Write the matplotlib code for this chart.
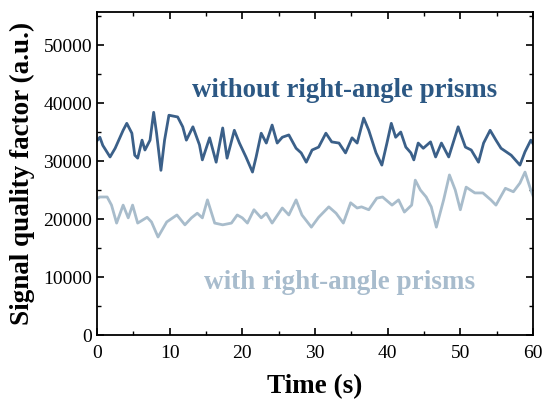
import matplotlib
matplotlib.use("Agg")
import matplotlib.pyplot as plt
from matplotlib.ticker import MultipleLocator

# values
t_without = [0.0, 0.4, 0.8, 1.8, 2.5, 3.6, 4.1, 4.8, 5.2, 5.6, 6.2, 6.6, 7.3, 7.8, 8.2, 8.8,
             9.3, 9.9, 11.1, 11.8, 12.3, 13.2, 14.1, 14.5, 15.5, 16.4, 17.3, 17.9, 18.9,
             19.6, 20.5, 21.4, 21.9, 22.6, 23.3, 24.1, 24.8, 25.5, 26.4, 27.4, 28.1, 28.8,
             29.6, 30.5, 31.5, 32.3, 33.3, 34.2, 35.1, 35.8, 36.7, 37.4, 38.4, 39.2, 39.9,
             40.5, 41.1, 41.8, 42.5, 43.2, 43.6, 44.2, 44.9, 45.9, 46.6, 47.4, 48.4, 49.7,
             50.7, 51.5, 52.5, 53.2, 54.1, 54.9, 55.6, 56.3, 57.0, 58.2, 58.9, 59.7, 60.0]
y_without = [33500, 34100, 32700, 30700, 32200, 35300, 36500, 34800, 31000, 30500, 33600,
             31900, 33600, 38400, 34800, 28400, 33600, 37900, 37600, 35900, 33600, 35900,
             32800, 30200, 34000, 29800, 35700, 30500, 35300, 33100, 30700, 28100, 30700,
             34800, 33100, 36200, 33100, 34100, 34500, 32200, 31400, 29800, 31900, 32400,
             34800, 33300, 33100, 31400, 34000, 33100, 37400, 35300, 31400, 29300, 33100,
             36500, 34100, 35000, 32400, 31400, 30200, 33100, 32200, 33300, 30700, 33100,
             30700, 35900, 32400, 31900, 29800, 33100, 35300, 33600, 32200, 31600, 31000,
             29300, 31600, 33600, 33000]

t_with = [0.0, 0.4, 1.4, 2.0, 2.7, 3.6, 4.3, 4.9, 5.6, 6.9, 7.5, 8.4, 9.6, 11.0, 12.1, 13.0,
          13.8, 14.5, 15.2, 16.2, 17.3, 18.5, 19.3, 20.0, 20.7, 21.6, 22.6, 23.3, 24.1,
          25.5, 26.4, 27.4, 28.2, 29.5, 30.5, 31.9, 32.9, 33.9, 34.9, 35.8, 36.4, 37.4,
          38.5, 39.3, 40.6, 41.5, 42.3, 43.3, 43.8, 44.5, 45.3, 46.0, 46.7, 47.7, 48.5,
          49.3, 50.0, 50.8, 52.0, 53.1, 54.2, 54.9, 56.2, 57.3, 58.2, 58.9, 59.7, 60.0]
y_with = [23500, 23800, 23800, 22400, 19300, 22400, 20200, 22400, 19300, 20300, 19500,
          16900, 19500, 20700, 19000, 20200, 21000, 20200, 23300, 19300, 19000, 19300,
          20700, 20200, 19300, 21600, 20200, 21000, 19300, 21900, 20700, 23300, 20700,
          18600, 20300, 22100, 21000, 19300, 22800, 21900, 22100, 21600, 23600, 23800,
          22400, 23300, 21200, 22400, 26700, 25000, 23800, 22100, 18600, 23300, 27600,
          25000, 21600, 25500, 24500, 24500, 23300, 22400, 25300, 24700, 26200, 28100,
          25000, 24000]

dark = "#3b6089"
light = "#a8bccb"

plt.rcParams["font.family"] = ["Liberation Serif", "DejaVu Serif"]

fig = plt.figure(figsize=(5.43, 4.05), dpi=100)
ax = fig.add_axes([0.1786, 0.1728, 0.8030, 0.7976])

ax.plot(t_without, y_without, color=dark, lw=2.0)
ax.plot(t_with, y_with, color=light, lw=2.0)

ax.text(34.0, 42200, "without right-angle prisms", color="#2c5884", fontsize=19.3,
        fontweight="bold", ha="center", va="center")
ax.text(33.4, 9100, "with right-angle prisms", color="#a8bccd", fontsize=19.5,
        fontweight="bold", ha="center", va="center")

ax.set_xlim(0, 60)
ax.set_ylim(0, 55700)
ax.xaxis.set_major_locator(MultipleLocator(10))
ax.xaxis.set_minor_locator(MultipleLocator(5))
ax.yaxis.set_major_locator(MultipleLocator(10000))
ax.yaxis.set_minor_locator(MultipleLocator(5000))
ax.tick_params(which="both", direction="in", top=True, right=True, labelsize=14)
ax.tick_params(which="major", length=5, width=1.2)
ax.tick_params(which="minor", length=3, width=1.0)
ax.tick_params(axis="x", which="major", pad=7)
for s in ax.spines.values():
    s.set_linewidth(1.3)

ax.set_xlabel("Time (s)", fontsize=19.5, fontweight="bold", labelpad=9)
ax.set_ylabel("Signal quality factor (a.u.)", fontsize=19.5, fontweight="bold", labelpad=6)

fig.savefig("out.png", dpi=100)
